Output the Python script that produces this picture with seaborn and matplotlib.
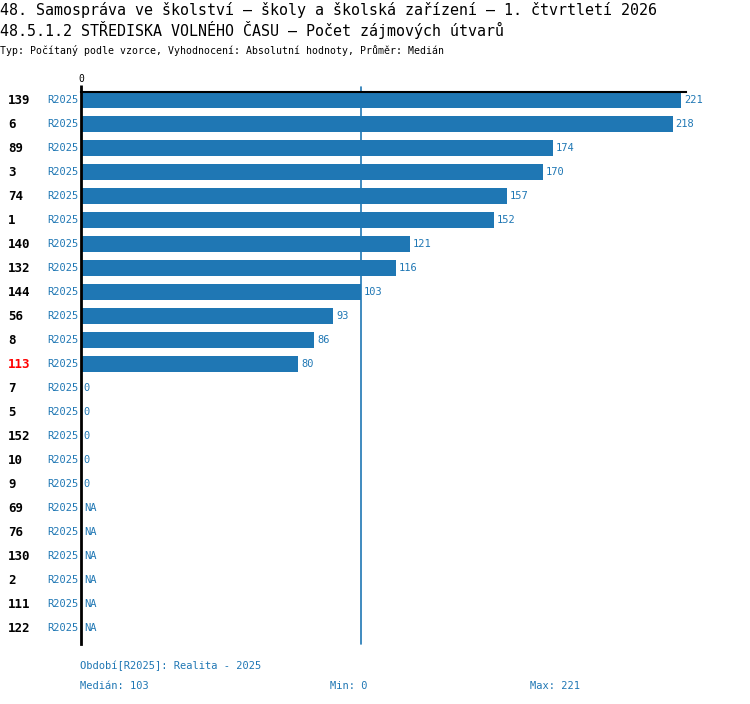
import numpy as np
import pandas as pd
import matplotlib
matplotlib.use("Agg")
import matplotlib.pyplot as plt
import matplotlib.transforms as mtransforms
import seaborn as sns

# === Data ===
ids = ["139", "6", "89", "3", "74", "1", "140", "132", "144", "56", "8", "113",
       "7", "5", "152", "10", "9", "69", "76", "130", "2", "111", "122"]
values = [221, 218, 174, 170, 157, 152, 121, 116, 103, 93, 86, 80,
          0, 0, 0, 0, 0, np.nan, np.nan, np.nan, np.nan, np.nan, np.nan]
period = "R2025"
highlight = "113"
median_val = 103
min_val = 0
max_val = 221

title1 = "48. Samospráva ve školství – školy a školská zařízení – 1. čtvrtletí 2026"
title2 = "48.5.1.2 STŘEDISKA VOLNÉHO ČASU – Počet zájmových útvarů"
subtitle = "Typ: Počítaný podle vzorce, Vyhodnocení: Absolutní hodnoty, Průměr: Medián"

# === Style ===
sns.set_style("white")
plt.rcParams["font.family"] = ["DejaVu Sans Mono"]
plt.rcParams["text.color"] = "black"
blue = "#1f77b4"

fig = plt.figure(figsize=(7.5, 7.04), dpi=100)
ax = fig.add_axes([81 / 750, 60 / 704, 605 / 750, 552 / 704])

df = pd.DataFrame({"id": ids, "value": values})
sns.barplot(data=df, x="value", y="id", order=ids, color=blue, saturation=1,
            width=0.66, errorbar=None, linewidth=0, ax=ax)

ax.set_xlim(0, max_val * 605 / 600)
ax.set_ylim(len(ids) - 1 + 16 / 24, -8 / 24)

# spines / ticks
for s in ["right", "bottom"]:
    ax.spines[s].set_visible(False)
ax.spines["left"].set_linewidth(2)
ax.spines["left"].set_color("black")
ax.spines["top"].set_linewidth(1.5)
ax.spines["top"].set_color("black")
ax.xaxis.tick_top()
ax.set_xticks([0])
ax.set_xticklabels(["0"])
ax.tick_params(axis="x", length=5, width=2, pad=1, labelsize=7, colors="black")
ax.set_yticks([])
ax.set_xlabel("")
ax.set_ylabel("")

# median line
ax.axvline(median_val, color=blue, lw=1.2, ymin=0, ymax=1 + 5 / 552,
           clip_on=False, zorder=0)

# row labels
trans = mtransforms.blended_transform_factory(fig.transFigure, ax.transData)
for i, (cid, v) in enumerate(zip(ids, values)):
    ax.text(8 / 750, i, cid, transform=trans, ha="left", va="center",
            fontsize=9, fontweight="bold",
            color="red" if cid == highlight else "black")
    ax.text(78 / 750, i, period, transform=trans, ha="right", va="center",
            fontsize=7.5, color=blue)
    lab = "NA" if np.isnan(v) else f"{v:.0f}"
    ax.annotate(lab, (0 if np.isnan(v) else v, i), xytext=(2, 0),
                textcoords="offset points", ha="left", va="center",
                fontsize=7.5, color=blue)

# titles
fig.text(0, 1 - 10 / 704, title1, fontsize=10.85, va="center", ha="left")
fig.text(0, 1 - 30 / 704, title2, fontsize=10.85, va="center", ha="left")
fig.text(0, 1 - 50 / 704, subtitle, fontsize=7.15, va="center", ha="left")

# footer
fig.text(80 / 750, 1 - 666 / 704, f"Období[{period}]: Realita - 2025",
         fontsize=7.5, color=blue, va="center")
fig.text(80 / 750, 1 - 686 / 704, f"Medián: {median_val}",
         fontsize=7.5, color=blue, va="center")
fig.text(330 / 750, 1 - 686 / 704, f"Min: {min_val}",
         fontsize=7.5, color=blue, va="center")
fig.text(530 / 750, 1 - 686 / 704, f"Max: {max_val}",
         fontsize=7.5, color=blue, va="center")

fig.savefig("out.png", dpi=100)
